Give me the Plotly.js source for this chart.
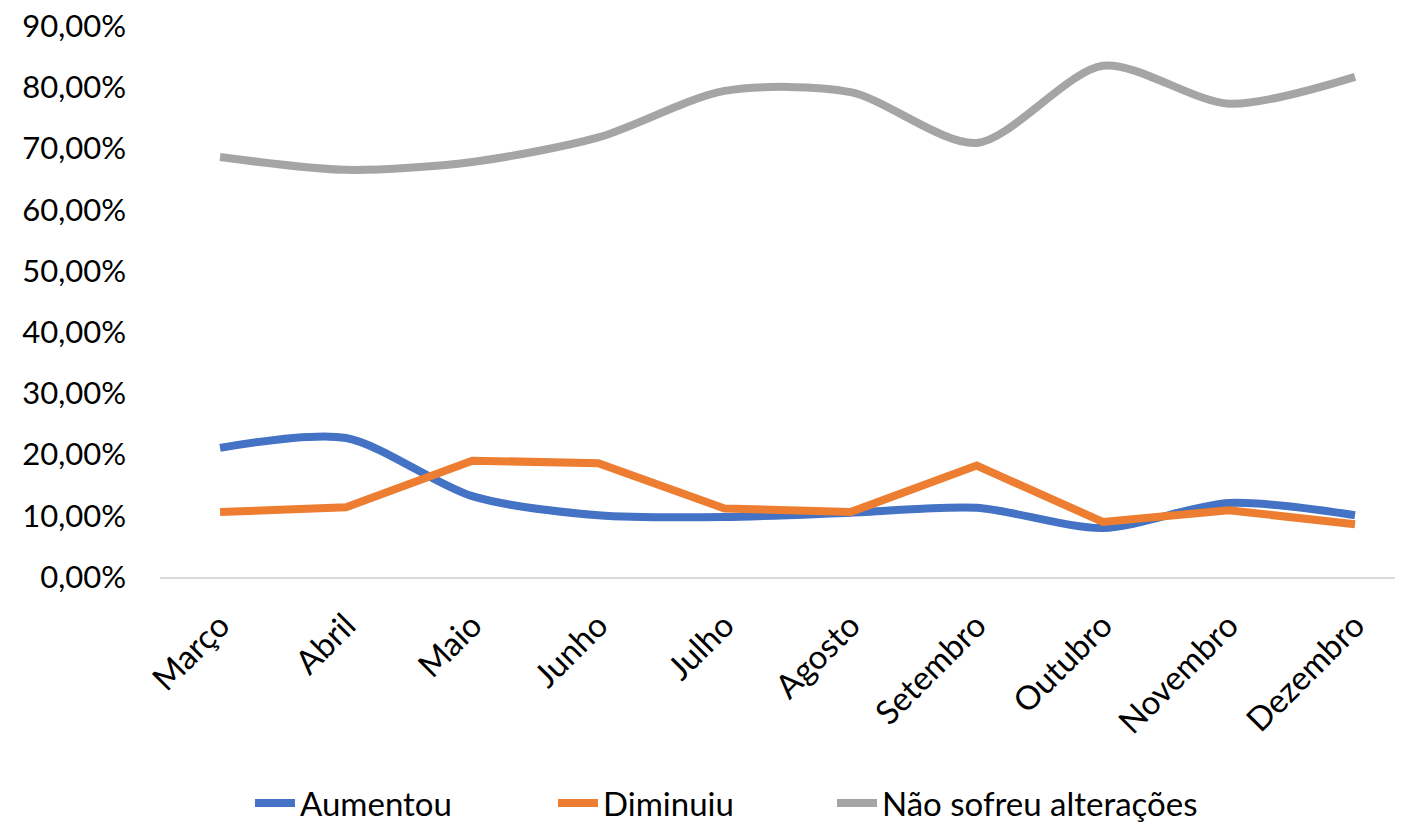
<!DOCTYPE html>
<html>
<head>
<meta charset="utf-8">
<script src="https://cdn.plot.ly/plotly-3.0.1.min.js"></script>
<style>html,body{margin:0;padding:0;background:#fff;}#chart{width:1405px;height:823px;}</style>
</head>
<body>
<div id="chart"></div>
<script>
const months = ["Março","Abril","Maio","Junho","Julho","Agosto","Setembro","Outubro","Novembro","Dezembro"];
const aumentou = [0.211,0.227,0.132,0.101,0.098,0.105,0.113,0.080,0.121,0.101];
const diminuiu = [0.106,0.114,0.190,0.186,0.112,0.106,0.182,0.090,0.109,0.086];
const naoSofreu = [0.686,0.665,0.678,0.718,0.794,0.792,0.709,0.835,0.773,0.817];
const yTicks = [0,0.1,0.2,0.3,0.4,0.5,0.6,0.7,0.8,0.9];

const FONT = "Lato, 'Open Sans', sans-serif";
const traces = [
  {x: months, y: aumentou, name: "Aumentou", type: "scatter", mode: "lines", legend: "legend",
   line: {color: "#4472C4", width: 8, shape: "spline", smoothing: 0.8}},
  {x: months, y: diminuiu, name: "Diminuiu", type: "scatter", mode: "lines", legend: "legend2",
   line: {color: "#ED7D31", width: 8, shape: "linear"}},
  {x: months, y: naoSofreu, name: "Não sofreu alterações", type: "scatter", mode: "lines", legend: "legend3",
   line: {color: "#A5A5A5", width: 8, shape: "spline", smoothing: 0.8}}
];
function leg(xpx) {
  return {orientation: "h", x: (xpx - 160) / 1235, xanchor: "left", y: (577 - 803) / 551, yanchor: "middle",
          font: {family: FONT, size: 33, color: "#000"}, itemwidth: 40, bgcolor: "rgba(0,0,0,0)"};
}
const layout = {
  width: 1405, height: 823,
  margin: {l: 160, r: 10, t: 26, b: 246, autoexpand: false},
  paper_bgcolor: "#fff", plot_bgcolor: "#fff",
  separators: ", ",
  font: {family: FONT, size: 31, color: "#000"},
  showlegend: true,
  legend: leg(250),
  legend2: leg(553),
  legend3: leg(832),
  xaxis: {type: "category", tickangle: -45, showgrid: false, zeroline: false, automargin: false,
          range: [-0.476, 9.317], ticklabelstandoff: 14,
          showline: true, linecolor: "#D9D9D9", linewidth: 2, ticks: "",
          tickfont: {family: FONT, size: 33, color: "#000"}, fixedrange: true},
  yaxis: {range: [0, 0.9], tickvals: yTicks, tickformat: ".2%", showgrid: false, automargin: false,
          zeroline: false, showline: false, ticks: "", ticklen: 0, ticklabelstandoff: 33,
          tickfont: {family: FONT, size: 31, color: "#000"}, fixedrange: true}
};
Plotly.newPlot("chart", traces, layout, {displayModeBar: false, staticPlot: true});
</script>
</body>
</html>
